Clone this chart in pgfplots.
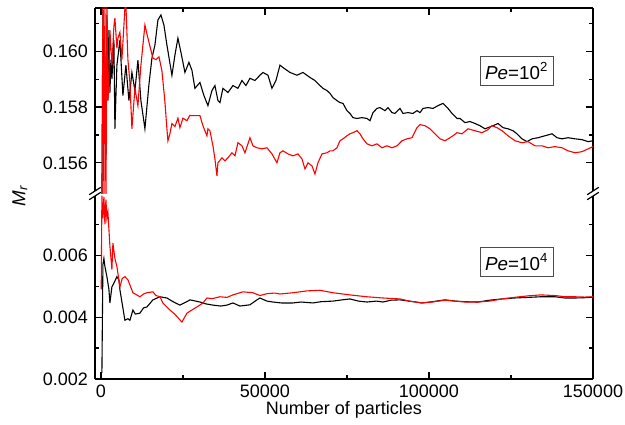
\documentclass[border=0pt]{standalone}
\usepackage{fontspec}
\setmainfont{Liberation Sans}
\usepackage{pgfplots}
\pgfplotsset{compat=1.18}

\pgfplotsset{
  brk/.style={
    width=249pt, height=92.75pt, scale only axis,
    xmin=-1800, xmax=150000,
    xtick={0,50000,100000,150000},
    minor xtick={25000,75000,125000},
    scaled ticks=false,
    tick align=inside,
    major tick length=3.5pt, minor tick length=2pt,
    every tick/.style={black, line width=0.6pt},
    axis line style={line width=0.75pt, black},
    tick label style={font=\fontsize{9}{10}\selectfont},
    /pgf/number format/assume math mode=true,
    xticklabel style={/pgf/number format/fixed, /pgf/number format/1000 sep={}, yshift=0.5pt},
    yticklabel style={/pgf/number format/fixed, /pgf/number format/precision=3, /pgf/number format/fixed zerofill},
    clip=true,
  },
  blk/.style={black, line width=0.55pt, mark=none},
  rd/.style={red, line width=0.55pt, mark=none},
}

\begin{document}
\begin{tikzpicture}
\useasboundingbox (-47.5pt,-22.5pt) rectangle (265pt,189.5pt);

% ---------------- top panel: Pe = 10^2 ----------------
\begin{axis}[brk, at={(0pt,92.75pt)}, anchor=south west,
  axis x line*=top, axis y line*=box, xticklabels={},
  ymin=0.1549, ymax=0.16155,
  ytick={0.156,0.158,0.160}, minor ytick={0.157,0.159,0.161}]
\addplot[blk] coordinates {
(305,0.1546) (610,0.16166) (915,0.1575) (1220,0.1600) (1525,0.1561) (1829,0.16130) (2134,0.15823) (2439,0.16076) (2744,0.15850) (3049,0.15970) (3354,0.15900) (3964,0.16040) (4269,0.15722) (4878,0.15950) (5793,0.16040) (6708,0.15841) (7623,0.15950) (8537,0.15823) (9452,0.15924) (10367,0.15859) (11281,0.15968) (12196,0.15823) (13416,0.15722) (14635,0.15880) (15550,0.15975) (16465,0.16022) (17379,0.16112) (18294,0.16130) (19209,0.16094) (20123,0.16022) (21648,0.15914) (22563,0.15986) (23477,0.16047) (24500,0.15990) (25612,0.15924) (26831,0.15960) (27746,0.15932)
(28661,0.15867) (30185,0.15888) (31405,0.15841) (32624,0.15805) (33844,0.15859) (34759,0.15877) (35673,0.15823) (36283,0.15816) (37198,0.15867) (38722,0.15852) (40247,0.15877) (41771,0.15867) (42991,0.15895) (44211,0.15877) (45430,0.15903) (46955,0.15895) (48479,0.15914) (49394,0.15924) (50918,0.15914) (52138,0.15867) (53358,0.15895) (54577,0.15950) (55797,0.15939) (57626,0.15924) (59760,0.15914) (61590,0.15924) (63724,0.15906) (65249,0.15895) (66773,0.15877)
(67688,0.15867) (68907,0.15859) (69822,0.15849) (70737,0.15834) (71956,0.15823) (72871,0.15816) (73786,0.15813) (75005,0.15787) (75920,0.15777) (76835,0.15762) (78054,0.15759) (79579,0.15762) (81103,0.15759) (82018,0.15751) (82933,0.15780) (84152,0.15795) (85067,0.15798) (86592,0.15787) (87506,0.15798) (88726,0.15780) (89641,0.15777) (91165,0.15795) (92080,0.15777) (93604,0.15780) (95129,0.15777) (96348,0.15787) (97263,0.15780) (98178,0.15795) (99702,0.15798) (101227,0.15795) (102751,0.15805) (104276,0.15813) (105800,0.15795) (107020,0.15777) (108545,0.15759)
(109459,0.15759) (110984,0.15744) (112508,0.15748) (114033,0.15741) (115557,0.15733) (117082,0.15722) (117996,0.15726) (119521,0.15733) (121045,0.15741) (122570,0.15726) (124094,0.15722) (125619,0.15715) (126838,0.15704) (128363,0.15686) (129887,0.15676) (131412,0.15686) (133241,0.15690) (135375,0.15697) (137510,0.15704) (139034,0.15690) (140559,0.15686) (142388,0.15690) (144523,0.15686) (146657,0.15683) (148486,0.15676) (150000,0.15679)
};
\addplot[rd] coordinates {
(305,0.1546) (610,0.16166) (915,0.1546) (1220,0.16166) (1525,0.1546) (1829,0.16166) (2134,0.15823) (2439,0.15900) (2744,0.16076) (3354,0.15950) (3964,0.16090) (4269,0.16119) (4878,0.16010) (5183,0.16047) (5793,0.16068) (6403,0.15970) (7318,0.16155) (7623,0.16166) (8232,0.15970) (8842,0.15888) (9452,0.15722) (10367,0.15867) (11281,0.15805) (12196,0.15950) (12806,0.16022) (13416,0.16094) (14330,0.16047) (15855,0.15975) (16800,0.15970) (17700,0.15980) (18600,0.15930) (19500,0.15820) (20123,0.15722) (20428,0.15679) (21038,0.15704) (21648,0.15741) (22563,0.15730) (23477,0.15760) (24087,0.15726) (25000,0.15760) (26221,0.15751) (27100,0.15770) (27746,0.15769)
(28661,0.15769) (30185,0.15769) (31100,0.15733) (32319,0.15697) (32624,0.15722) (33234,0.15715) (34149,0.15661) (34759,0.15614) (35368,0.15553) (35673,0.15600) (36893,0.15618) (37808,0.15607) (38722,0.15618) (39942,0.15636) (40857,0.15625) (41771,0.15672) (42991,0.15661) (43906,0.15636) (45430,0.15690) (46345,0.15661) (47564,0.15654) (49089,0.15650) (50613,0.15654) (52138,0.15632) (53662,0.15600) (54577,0.15636) (55492,0.15643) (57016,0.15632) (58541,0.15625) (60066,0.15632) (61285,0.15614) (62200,0.15578) (63114,0.15600) (64334,0.15589) (65249,0.15560) (66163,0.15600) (67383,0.15632) (68907,0.15636) (69822,0.15643)
(70737,0.15643) (71956,0.15654) (72871,0.15679) (73786,0.15686) (75005,0.15697) (75920,0.15704) (76835,0.15708) (78054,0.15715) (78969,0.15704) (79884,0.15686) (81103,0.15668) (82628,0.15661) (84152,0.15668) (85677,0.15654) (87201,0.15661) (88726,0.15654) (90250,0.15661) (91775,0.15679) (93299,0.15686) (94824,0.15690) (96348,0.15726) (97263,0.15737) (98788,0.15733) (100312,0.15722) (101837,0.15704) (103361,0.15686) (104886,0.15679) (106410,0.15690) (107325,0.15697) (108545,0.15708)
(110069,0.15704) (111898,0.15722) (114033,0.15715) (116167,0.15708) (117996,0.15719) (119216,0.15733) (120740,0.15726) (122265,0.15715) (124094,0.15697) (126229,0.15679) (128363,0.15672) (130192,0.15676) (132326,0.15661) (134460,0.15661) (136290,0.15654) (138425,0.15658) (140559,0.15654) (142388,0.15643) (144523,0.15636) (146657,0.15640) (148486,0.15650) (150000,0.15658)
};
\node[draw=black!70, fill=white, line width=0.5pt, inner xsep=2.5pt, inner ysep=3pt,
  font=\fontsize{9.4}{10}\selectfont] at (axis description cs:0.847,0.659)
  {\textit{Pe}=10\textsuperscript{2}};
\end{axis}

% ---------------- bottom panel: Pe = 10^4 ----------------
\begin{axis}[brk, at={(0pt,0pt)}, anchor=south west,
  axis x line*=bottom, axis y line*=box,
  ymin=0.002, ymax=0.008,
  ytick={0.002,0.004,0.006}, minor ytick={0.003,0.005,0.007},
  xlabel={Number of particles},
  xlabel style={at={(axis description cs:0.5,0)}, anchor=center, yshift=-15.5pt, font=\fontsize{9}{10}\selectfont},
  ylabel={\textit{M}\textsubscript{\textit{r}}},
  ylabel style={at={(axis description cs:0,0.99)}, anchor=center, yshift=37.5pt, font=\fontsize{9.4}{10}\selectfont}]
\addplot[blk] coordinates {
(305,0.0022) (610,0.0057) (915,0.0059) (1220,0.00564) (1829,0.00531) (2439,0.00490) (2744,0.00446) (3354,0.00498) (3964,0.00510) (4878,0.00531) (5500,0.00520) (5793,0.00489) (6700,0.00430) (7318,0.00390) (8232,0.00395) (8842,0.00390) (9757,0.00423) (10500,0.00410) (11891,0.00413) (13000,0.00430) (14025,0.00433) (15855,0.00456) (17989,0.00466) (20123,0.00462) (22000,0.00450) (24087,0.00439) (26500,0.00452) (27136,0.00456) (30185,0.00449) (32000,0.00443) (34149,0.00439) (36500,0.00436) (38417,0.00439) (40247,0.00446) (42381,0.00436) (45430,0.00440) (47564,0.00456) (48479,0.00462) (50613,0.00452) (52443,0.00449) (55000,0.00446) (58541,0.00446) (61000,0.00449) (64639,0.00446) (67000,0.00450) (70737,0.00452) (73500,0.00456) (75920,0.00459) (78500,0.00452) (81103,0.00449) (84000,0.00452) (85982,0.00449) (88500,0.00455) (91165,0.00456) (94000,0.00452) (97873,0.00446) (101000,0.00450) (104886,0.00456) (108000,0.00452) (111000,0.00450) (114947,0.00449) (118500,0.00455) (122265,0.00459) (126000,0.00462) (130192,0.00464) (134000,0.00466) (138425,0.00466) (141500,0.00462) (144523,0.00462) (147500,0.00463) (150000,0.00465)
};
\addplot[rd] coordinates {
(100,0.0049) (305,0.00793) (610,0.00720) (915,0.00790) (1220,0.00700) (1525,0.00780) (1829,0.00720) (2134,0.00740) (2744,0.00630) (3354,0.00554) (3659,0.00640) (4269,0.00590) (4878,0.00564) (5793,0.00498) (6500,0.00525) (7318,0.00531) (8232,0.00521) (9757,0.00479) (11891,0.00466) (13000,0.00475) (14025,0.00479) (15855,0.00482) (16800,0.00470) (17989,0.00466) (18904,0.00446) (21038,0.00423) (22500,0.00410) (24697,0.00384) (26221,0.00413) (28000,0.00425) (29270,0.00433) (31000,0.00445) (32319,0.00462) (34000,0.00460) (36283,0.00466) (38417,0.00464) (40247,0.00472) (43296,0.00482) (46345,0.00479) (48479,0.00470) (50613,0.00476) (53000,0.00478) (54577,0.00475) (58541,0.00479) (62809,0.00485) (66773,0.00487) (70737,0.00479) (75920,0.00472) (81103,0.00466) (85982,0.00462) (91165,0.00459) (94000,0.00452) (97873,0.00446) (101000,0.00449) (104886,0.00455) (108000,0.00452) (111000,0.00449) (114947,0.00449) (118500,0.00452) (122265,0.00459) (126000,0.00464) (130192,0.00469) (134000,0.00472) (138425,0.00470) (141500,0.00466) (144523,0.00466) (147500,0.00465) (150000,0.00466)
};
\node[draw=black!70, fill=white, line width=0.5pt, inner xsep=2.5pt, inner ysep=3pt,
  font=\fontsize{9.4}{10}\selectfont] at (axis description cs:0.847,0.629)
  {\textit{Pe}=10\textsuperscript{4}};
\end{axis}

% ---------------- axis-break marks ----------------
\foreach \bx in {0pt,249pt}{
  \begin{scope}[shift={(\bx,92.75pt)}]
    \fill[white] (-2.9pt,-3.1pt) -- (2.9pt,0.6pt) -- (2.9pt,3.1pt) -- (-2.9pt,-0.6pt) -- cycle;
    \draw[black, line width=0.6pt] (-2.9pt,-3.1pt) -- (2.9pt,0.6pt);
    \draw[black, line width=0.6pt] (-2.9pt,-0.6pt) -- (2.9pt,3.1pt);
  \end{scope}
}
\end{tikzpicture}
\end{document}
